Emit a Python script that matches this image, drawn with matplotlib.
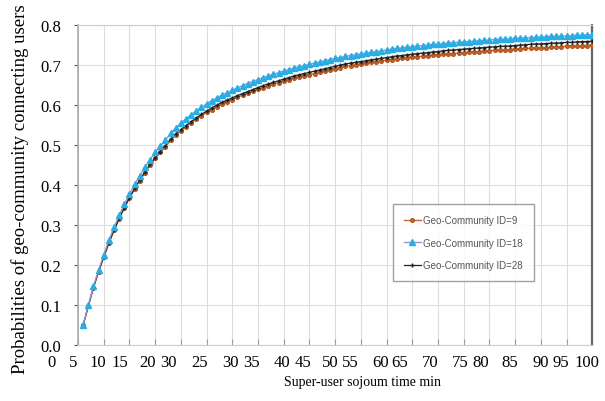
"""Geo-community connection probability vs. super-user sojourn time."""
import matplotlib
matplotlib.use("Agg")
import matplotlib.pyplot as plt
from matplotlib.transforms import blended_transform_factory

# sojourn time (min)
t = list(range(1, 101))

p_id9 = [
    0.050, 0.098, 0.144, 0.184, 0.220, 0.255, 0.287, 0.316, 0.343, 0.367,
    0.390, 0.411, 0.431, 0.450, 0.467, 0.482, 0.496, 0.512, 0.525, 0.536,
    0.546, 0.556, 0.565, 0.574, 0.582, 0.589, 0.596, 0.603, 0.609, 0.614,
    0.620, 0.625, 0.630, 0.635, 0.640, 0.644, 0.648, 0.652, 0.656, 0.660,
    0.664, 0.667, 0.670, 0.673, 0.676, 0.679, 0.682, 0.685, 0.688, 0.691,
    0.694, 0.697, 0.699, 0.701, 0.703, 0.705, 0.707, 0.709, 0.711, 0.712,
    0.714, 0.716, 0.717, 0.719, 0.720, 0.721, 0.722, 0.723, 0.725, 0.726,
    0.727, 0.728, 0.729, 0.730, 0.731, 0.732, 0.733, 0.734, 0.735, 0.736,
    0.737, 0.737, 0.738, 0.739, 0.740, 0.741, 0.742, 0.742, 0.743, 0.743,
    0.744, 0.745, 0.745, 0.746, 0.747, 0.747, 0.748, 0.749, 0.749, 0.750,
]

p_id18 = [
    0.050, 0.100, 0.147, 0.188, 0.226, 0.262, 0.295, 0.325, 0.352, 0.378,
    0.402, 0.424, 0.445, 0.464, 0.482, 0.498, 0.513, 0.530, 0.543, 0.555,
    0.566, 0.576, 0.586, 0.595, 0.603, 0.611, 0.618, 0.625, 0.631, 0.637,
    0.643, 0.649, 0.654, 0.659, 0.664, 0.669, 0.673, 0.677, 0.681, 0.685,
    0.689, 0.693, 0.696, 0.699, 0.702, 0.705, 0.708, 0.711, 0.714, 0.717,
    0.719, 0.722, 0.724, 0.726, 0.728, 0.730, 0.732, 0.734, 0.736, 0.738,
    0.740, 0.742, 0.743, 0.745, 0.746, 0.748, 0.749, 0.750, 0.752, 0.753,
    0.754, 0.755, 0.756, 0.757, 0.758, 0.759, 0.760, 0.761, 0.762, 0.763,
    0.764, 0.765, 0.765, 0.766, 0.767, 0.768, 0.768, 0.769, 0.770, 0.770,
    0.771, 0.772, 0.772, 0.773, 0.773, 0.774, 0.775, 0.775, 0.776, 0.776,
]

p_id28 = [
    0.050, 0.098, 0.144, 0.184, 0.221, 0.256, 0.288, 0.317, 0.344, 0.369,
    0.392, 0.413, 0.433, 0.452, 0.469, 0.484, 0.499, 0.515, 0.528, 0.539,
    0.549, 0.559, 0.568, 0.577, 0.585, 0.593, 0.600, 0.607, 0.613, 0.618,
    0.624, 0.629, 0.634, 0.639, 0.644, 0.649, 0.653, 0.657, 0.661, 0.665,
    0.669, 0.673, 0.676, 0.679, 0.682, 0.685, 0.688, 0.691, 0.694, 0.697,
    0.700, 0.703, 0.705, 0.707, 0.709, 0.711, 0.713, 0.715, 0.717, 0.719,
    0.721, 0.723, 0.724, 0.726, 0.727, 0.729, 0.730, 0.731, 0.733, 0.734,
    0.736, 0.737, 0.738, 0.739, 0.740, 0.741, 0.742, 0.743, 0.744, 0.745,
    0.746, 0.747, 0.747, 0.748, 0.749, 0.750, 0.751, 0.752, 0.753, 0.753,
    0.754, 0.755, 0.755, 0.756, 0.757, 0.757, 0.758, 0.759, 0.759, 0.760,
]

series_names = ["Geo-Community ID=9", "Geo-Community ID=18", "Geo-Community ID=28"]

# the x tick labels in the source figure are garbled; keep them as printed
xtick_labels = ["0", "5", "10", "15", "20", "30", "25", "30", "35", "40", "45",
                "50", "55", "60", "65", "70", "75", "80", "85", "90", "95", "100"]
xtick_at = [-5.1, -1.0, 3.9, 8.2, 13.6, 17.5, 23.7, 29.6, 33.8, 39.7, 43.8,
            49.0, 52.9, 58.8, 62.6, 68.5, 74.3, 78.2, 84.0, 89.9, 93.8, 99.0]

serif = ["Liberation Serif", "DejaVu Serif"]

fig = plt.figure(figsize=(6.05, 4.02), dpi=100)
ax = fig.add_axes([0.129, 0.139, 0.850, 0.796])

ax.plot(t, p_id9, "-o", color="#c8682e", ms=2.6, lw=1.0, mec="#b0551f",
        label=series_names[0], zorder=3)
ax.plot(t, p_id28, "-+", color="#222222", ms=3.5, lw=0.9, mew=1.0,
        label=series_names[2], zorder=4)
ax.plot(t, p_id18, "-^", color="#9d93d6", mfc="#27aee4", mec="#27aee4",
        ms=5, lw=1.0, label=series_names[1], zorder=5)

ax.set_xlim(0, 100)
ax.set_ylim(0, 0.8)
ax.set_xticks(range(0, 101, 5))
ax.set_xticklabels([])
ax.set_yticks([i / 10 for i in range(9)])
ax.set_yticklabels([f"{i / 10:.1f}" for i in range(9)], fontfamily=serif, fontsize=12)
ax.tick_params(axis="x", direction="in", length=4, color="#999999")
ax.tick_params(axis="y", direction="out", length=3, color="#555555", pad=9)
ax.grid(True, color="#dddddd", lw=0.8)
ax.set_axisbelow(True)

for side in ("top", "bottom"):
    ax.spines[side].set_color("#cccccc")
ax.spines["left"].set_color("#aaaaaa")
ax.spines["left"].set_linewidth(1.2)
ax.spines["right"].set_color("#666666")
ax.spines["right"].set_linewidth(1.6)

tr = blended_transform_factory(ax.transData, ax.transAxes)
for lab, xp in zip(xtick_labels, xtick_at):
    ax.text(xp, -0.028, lab, transform=tr, ha="center", va="top",
            fontfamily=serif, fontsize=12, clip_on=False)

ax.set_xlabel("Super-user sojoum time min", fontfamily=serif, fontsize=10)
ax.xaxis.set_label_coords(0.553, -0.092)
ax.set_ylabel("Probabilities of geo-community connecting users",
              fontfamily=serif, fontsize=13.5)
ax.yaxis.set_label_coords(-0.095, 0.49)

handles, labels = ax.get_legend_handles_labels()
order = [labels.index(n) for n in series_names]
leg = ax.legend([handles[i] for i in order], [labels[i] for i in order],
                loc="lower left", bbox_to_anchor=(0.613, 0.2),
                prop={"family": "Liberation Sans", "size": 7},
                frameon=True, fancybox=False, edgecolor="#888888",
                handlelength=1.7, handletextpad=0.3, labelspacing=1.3,
                borderpad=1.1, borderaxespad=0)
for txt in leg.get_texts():
    txt.set_color("#555555")

fig.savefig("out.png", dpi=100)
